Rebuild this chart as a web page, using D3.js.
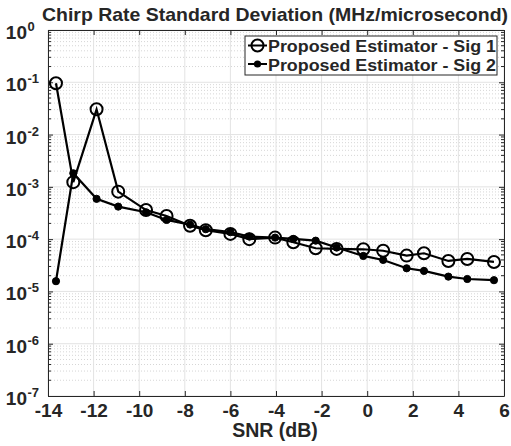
<!DOCTYPE html>
<html>
<head>
<meta charset="utf-8">
<script src="https://cdn.jsdelivr.net/npm/d3@7"></script>
<style>
  html, body { margin: 0; padding: 0; background: #fff; }
  svg { display: block; }
  text { font-family: "Liberation Sans", Arial, Helvetica, sans-serif; font-weight: bold; fill: #262626; }
</style>
</head>
<body>
<svg id="chart" width="511" height="446"></svg>
<script>
// SNR points (dB)
const snr = [-13.65, -12.89, -11.87, -10.92, -9.7, -8.8, -7.77, -7.08, -6.0, -5.17, -4.04,
             -3.24, -2.26, -1.34, -0.17, 0.7, 1.73, 2.49, 3.56, 4.39, 5.56];
// Chirp rate standard deviation, signal 1
const sig1 = [0.096, 1.23e-3, 0.0304, 8.1e-4, 3.6e-4, 2.78e-4, 1.8e-4, 1.48e-4, 1.26e-4, 1.0e-4, 1.07e-4,
              8.7e-5, 6.7e-5, 6.5e-5, 6.4e-5, 6.0e-5, 4.84e-5, 5.37e-5, 3.83e-5, 4.18e-5, 3.66e-5];
// Chirp rate standard deviation, signal 2
const sig2 = [1.57e-5, 1.82e-3, 5.9e-4, 4.19e-4, 3.27e-4, 2.33e-4, 1.9e-4, 1.55e-4, 1.36e-4, 1.12e-4, 1.07e-4,
              1.01e-4, 9.35e-5, 6.9e-5, 4.77e-5, 4.0e-5, 2.77e-5, 2.47e-5, 1.92e-5, 1.73e-5, 1.64e-5];
const seriesNames = ["Proposed Estimator - Sig 1", "Proposed Estimator - Sig 2"];
const xTicks = [-14, -12, -10, -8, -6, -4, -2, 0, 2, 4, 6];
const yExponents = [0, -1, -2, -3, -4, -5, -6, -7];
const titleText = "Chirp Rate Standard Deviation (MHz/microsecond)";
const xLabelText = "SNR (dB)";

const svg = d3.select("#chart");
const L = 48, R = 504, T = 30, B = 396;

const x = d3.scaleLinear().domain([-14, 6]).range([L, R]);
const y = d3.scaleLog().domain([1e-7, 1]).range([B, T]);

const axisCol = "#262626";

// minor y gridlines (dotted)
const minorVals = [];
for (let e = -7; e < 0; e++) for (let m = 2; m <= 9; m++) minorVals.push(m * Math.pow(10, e));
svg.append("g").selectAll("line").data(minorVals).join("line")
  .attr("x1", L).attr("x2", R)
  .attr("y1", d => y(d)).attr("y2", d => y(d))
  .attr("stroke", "#d6d6d6").attr("stroke-width", 1).attr("stroke-dasharray", "1,2");

// major gridlines
svg.append("g").selectAll("line").data(yExponents.map(e => Math.pow(10, e))).join("line")
  .attr("x1", L).attr("x2", R)
  .attr("y1", d => y(d)).attr("y2", d => y(d))
  .attr("stroke", "#e3e3e3").attr("stroke-width", 1);
svg.append("g").selectAll("line").data(xTicks).join("line")
  .attr("x1", d => x(d)).attr("x2", d => x(d))
  .attr("y1", T).attr("y2", B)
  .attr("stroke", "#e3e3e3").attr("stroke-width", 1);

// axes with inward ticks
const gx = svg.append("g").attr("transform", `translate(0,${B})`)
  .call(d3.axisBottom(x).tickValues(xTicks).tickSizeInner(-5).tickSizeOuter(0));
gx.select(".domain").attr("stroke", axisCol);
gx.selectAll(".tick line").attr("stroke", axisCol);
gx.selectAll(".tick text").attr("dy", 0).attr("y", 21).style("font-size", "19px").attr("fill", axisCol)
  .text(d => d < 0 ? "-" + Math.abs(d) : d);

const gxTop = svg.append("g").attr("transform", `translate(0,${T})`)
  .call(d3.axisTop(x).tickValues(xTicks).tickSizeInner(-5).tickSizeOuter(0).tickFormat(""));
gxTop.select(".domain").attr("stroke", axisCol);
gxTop.selectAll(".tick line").attr("stroke", axisCol);

const gy = svg.append("g").attr("transform", `translate(${L},0)`)
  .call(d3.axisLeft(y).tickValues(yExponents.map(e => Math.pow(10, e))).tickSizeInner(-5).tickSizeOuter(0).tickFormat(""));
gy.select(".domain").attr("stroke", axisCol);
gy.selectAll(".tick line").attr("stroke", axisCol);
const gyR = svg.append("g").attr("transform", `translate(${R},0)`)
  .call(d3.axisRight(y).tickValues(yExponents.map(e => Math.pow(10, e))).tickSizeInner(-5).tickSizeOuter(0).tickFormat(""));
gyR.select(".domain").attr("stroke", axisCol);
gyR.selectAll(".tick line").attr("stroke", axisCol);

// minor ticks on both y sides
[L, R].forEach((xx, i) => {
  svg.append("g").selectAll("line").data(minorVals).join("line")
    .attr("x1", xx).attr("x2", i === 0 ? xx + 3 : xx - 3)
    .attr("y1", d => y(d)).attr("y2", d => y(d))
    .attr("stroke", axisCol).attr("stroke-width", 1);
});

// y tick labels 10^n
svg.append("g").selectAll("text").data(yExponents).join("text")
  .attr("x", 27).attr("y", d => y(Math.pow(10, d)) + 9)
  .attr("text-anchor", "end")
  .style("font-size", "19px")
  .text("10");
svg.append("g").selectAll("text").data(yExponents).join("text")
  .attr("x", 27.5).attr("y", d => y(Math.pow(10, d)) + 1)
  .attr("text-anchor", "start")
  .style("font-size", "13px")
  .text(d => d === 0 ? "0" : "-" + Math.abs(d));

// series lines and markers
const line = d3.line().x((d, i) => x(snr[i])).y(d => y(d));
svg.append("path").datum(sig1).attr("d", line)
  .attr("fill", "none").attr("stroke", "#000").attr("stroke-width", 2.2);
svg.append("path").datum(sig2).attr("d", line)
  .attr("fill", "none").attr("stroke", "#000").attr("stroke-width", 2.2);

svg.append("g").selectAll("circle").data(sig1).join("circle")
  .attr("cx", (d, i) => x(snr[i])).attr("cy", d => y(d)).attr("r", 6)
  .attr("fill", "none").attr("stroke", "#000").attr("stroke-width", 2);
svg.append("g").selectAll("circle").data(sig2).join("circle")
  .attr("cx", (d, i) => x(snr[i])).attr("cy", d => y(d)).attr("r", 3.6)
  .attr("fill", "#000").attr("stroke", "#000").attr("stroke-width", 1);

// title and x label
svg.append("text").attr("x", 275).attr("y", 21).attr("text-anchor", "middle")
  .style("font-size", "19px").attr("fill", "#000")
  .attr("textLength", 466).attr("lengthAdjust", "spacingAndGlyphs").text(titleText);
svg.append("text").attr("x", 275).attr("y", 437).attr("text-anchor", "middle")
  .style("font-size", "19.5px").attr("fill", axisCol).text(xLabelText);

// legend
const lg = svg.append("g");
lg.append("rect").attr("x", 245).attr("y", 36).attr("width", 252).attr("height", 39)
  .attr("fill", "#fff").attr("stroke", axisCol).attr("stroke-width", 1);
seriesNames.forEach((name, i) => {
  const cy = 45.5 + i * 18.5;
  lg.append("line").attr("x1", 248).attr("x2", 267).attr("y1", cy).attr("y2", cy)
    .attr("stroke", "#000").attr("stroke-width", 2);
  if (i === 0) {
    lg.append("circle").attr("cx", 257.5).attr("cy", cy).attr("r", 6)
      .attr("fill", "none").attr("stroke", "#000").attr("stroke-width", 2);
  } else {
    lg.append("circle").attr("cx", 257.5).attr("cy", cy).attr("r", 3.6).attr("fill", "#000");
  }
  lg.append("text").attr("x", 268).attr("y", cy + 6.5).style("font-size", "16px").attr("fill", "#000")
    .attr("textLength", 228).attr("lengthAdjust", "spacingAndGlyphs").text(name);
});
</script>
</body>
</html>
